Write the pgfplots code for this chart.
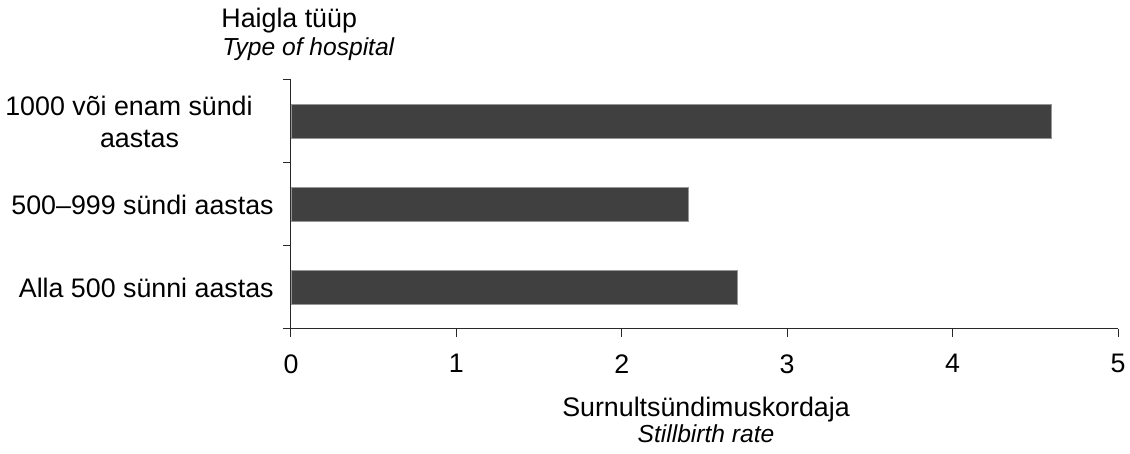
\documentclass[border=0pt]{standalone}
\usepackage{pgfplots}
\pgfplotsset{compat=1.18}
\usepackage{fontspec}
\setmainfont{Liberation Sans}
\definecolor{barfill}{RGB}{64,64,64}
\definecolor{baredge}{RGB}{150,150,150}
\definecolor{axcol}{RGB}{40,40,40}
\begin{document}
\fontsize{13.4}{16}\selectfont
\begin{tikzpicture}
\useasboundingbox (0,0) rectangle (565pt,227pt);
\begin{axis}[
  at={(145.5pt,62.5pt)}, anchor=south west,
  scale only axis, width=413.5pt, height=124.5pt,
  xbar, bar width=0.4,
  xmin=0, xmax=5, ymin=-0.5, ymax=2.5,
  axis x line*=bottom, axis y line*=left,
  axis line style={axcol, line width=0.5pt},
  xtick={0,1,2,3,4,5},
  ytick={0,1,2},
  yticklabels={Alla 500 sünni aastas, 500–999 sündi aastas, {1000 või enam sündi\hspace*{10.5pt}\\aastas}},
  minor ytick={-0.5,0.5,1.5,2.5},
  tick align=outside,
  major tick length=4pt, minor tick length=4pt,
  major y tick style={draw=none},
  every tick/.style={axcol, line width=0.5pt},
  minor y tick style={axcol, line width=0.5pt},
  /pgf/number format/assume math mode=true,
  ticklabel style={font=\fontsize{13.4}{16}\selectfont},
  xticklabel style={yshift=-4pt},
  yticklabel style={align=center},
  clip=false,
]
\addplot[fill=barfill, draw=baredge, line width=0.4pt] coordinates {(2.7,0) (2.4,1) (4.6,2)};
\end{axis}
\node[anchor=base west, inner sep=0pt] at (110.5pt,213pt) {Haigla tüüp};
\node[anchor=base west, inner sep=0pt, font=\fontsize{12.3}{14}\selectfont\itshape] at (111pt,199pt) {Type of hospital};
\node[anchor=base, inner sep=0pt] at (353pt,18.5pt) {Surnultsündimuskordaja};
\node[anchor=base, inner sep=0pt, font=\fontsize{12.3}{14}\selectfont\itshape] at (353pt,5.5pt) {Stillbirth rate};
\end{tikzpicture}
\end{document}
